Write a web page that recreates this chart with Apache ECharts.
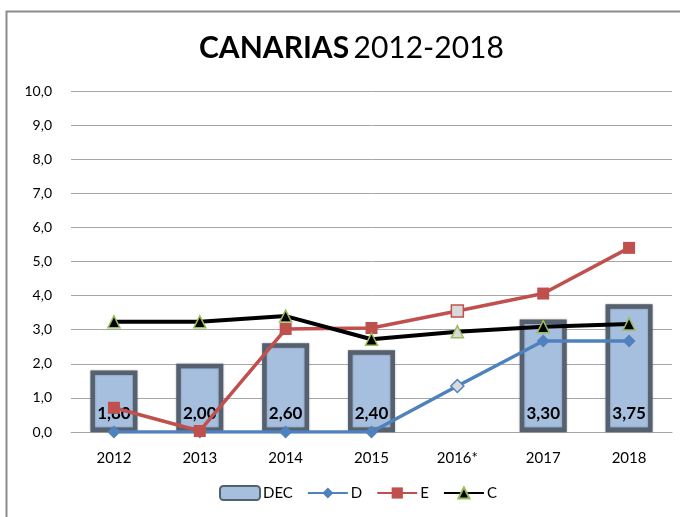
<!DOCTYPE html>
<html>
<head>
<meta charset="utf-8">
<script src="https://cdn.jsdelivr.net/npm/echarts@6/dist/echarts.min.js"></script>
<style>
  html, body { margin: 0; padding: 0; background: #fff; }
  #chart { width: 680px; height: 517px; }
</style>
</head>
<body>
<div id="chart"></div>
<script>
// Categories (x axis)
const years = ['2012', '2013', '2014', '2015', '2016*', '2017', '2018'];
// DEC bars (no value for 2016*)
const decValues = [1.80, 2.00, 2.60, 2.40, null, 3.30, 3.75];
// Line series
const dValues = [0, 0, 0, 0, 1.35, 2.67, 2.67];
const eValues = [0.71, 0.03, 3.02, 3.05, 3.55, 4.06, 5.40];
const cValues = [3.23, 3.23, 3.40, 2.72, 2.94, 3.09, 3.17];
// Y axis range
const yMin = 0, yMax = 10, yStep = 1;

const FONT = 'Lato, "Noto Sans", sans-serif';
const estimatedIndex = years.indexOf('2016*');

const comma = (v, d) => v.toFixed(d).replace('.', ',');

function withEstimate(values, edge) {
  return values.map((v, i) => i === estimatedIndex
    ? { value: v, itemStyle: { color: '#d9d9d9', borderColor: edge, borderWidth: 1.5 } }
    : v);
}

const chart = echarts.init(document.getElementById('chart'), null, { renderer: 'canvas' });

chart.setOption({
  animation: false,
  backgroundColor: '#ffffff',
  textStyle: { fontFamily: FONT },
  graphic: [{
    type: 'rect',
    shape: { x: 6.5, y: 11.5, width: 690, height: 520 },
    style: { fill: 'none', stroke: '#8c8c8c', lineWidth: 2 },
    silent: true
  }],
  title: {
    text: '{b|CANARIAS} {n|2012-2018}',
    left: 194,
    top: 28,
    textStyle: {
      rich: {
        b: { fontFamily: FONT, fontWeight: 'bold', fontSize: 30, color: '#000' },
        n: { fontFamily: FONT, fontWeight: 'normal', fontSize: 30, color: '#000' }
      }
    }
  },
  legend: {
    bottom: 11,
    left: 214,
    itemGap: 14,
    itemWidth: 40,
    itemHeight: 14,
    textStyle: { fontFamily: FONT, fontSize: 15, color: '#000', padding: [0, 0, 0, -2] },
    data: [
      { name: 'DEC', icon: 'roundRect' },
      { name: 'D' }, { name: 'E' }, { name: 'C' }
    ]
  },
  grid: { left: 71, right: 8, top: 91, bottom: 85 },
  xAxis: {
    type: 'category',
    data: years,
    axisLine: { show: true, lineStyle: { color: '#a6a6a6', width: 1 } },
    axisTick: { show: false },
    axisLabel: { fontFamily: FONT, fontSize: 15, color: '#000', margin: 19 }
  },
  yAxis: {
    type: 'value',
    min: yMin, max: yMax, interval: yStep,
    axisLine: { show: false },
    axisTick: { show: false },
    splitLine: { show: true, lineStyle: { color: '#a6a6a6', width: 1 } },
    axisLabel: {
      fontFamily: FONT, fontSize: 14, color: '#000', margin: 19,
      formatter: v => comma(v, 1)
    }
  },
  series: [
    {
      name: 'DEC',
      type: 'bar',
      data: decValues,
      barWidth: 47,
      itemStyle: {
        color: '#a7bfdf',
        borderColor: '#56616f',
        borderWidth: 4.5,
        shadowColor: 'rgba(0,0,0,0.35)',
        shadowBlur: 2
      },
      label: {
        show: true,
        position: 'insideBottom',
        distance: 10,
        fontFamily: FONT,
        fontWeight: 'bold',
        fontSize: 17,
        color: '#000',
        formatter: p => comma(p.value, 2)
      },
      z: 1
    },
    {
      name: 'D',
      type: 'line',
      data: withEstimate(dValues, '#4f81bd'),
      symbol: 'diamond',
      symbolSize: 13,
      color: '#4f81bd',
      lineStyle: { color: '#4f81bd', width: 3.5 },
      itemStyle: { color: '#4f81bd' },
      z: 3
    },
    {
      name: 'E',
      type: 'line',
      data: withEstimate(eValues, '#c0504d'),
      symbol: 'rect',
      symbolSize: 12,
      color: '#c0504d',
      lineStyle: { color: '#c0504d', width: 3.5 },
      itemStyle: { color: '#c0504d' },
      z: 4
    },
    {
      name: 'C',
      type: 'line',
      data: withEstimate(cValues, '#9bbb59'),
      symbol: 'triangle',
      symbolSize: 12,
      color: '#000',
      lineStyle: { color: '#000', width: 4 },
      itemStyle: { color: '#000', borderColor: '#9bbb59', borderWidth: 1.5 },
      z: 5
    }
  ]
});
</script>
</body>
</html>
